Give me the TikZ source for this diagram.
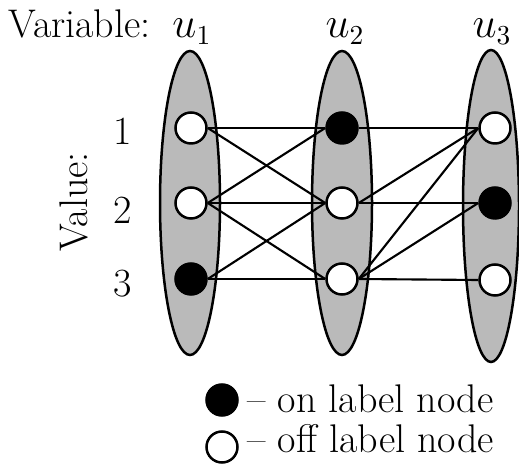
\documentclass[tikz,border=0pt]{standalone}
\begin{document}
\begin{tikzpicture}[x=0.4pt,y=-0.4pt,
  txt/.style={font=\fontsize{16}{19}\selectfont, inner sep=0pt},
  domainbox/.style={draw=black, line width=1pt, fill=black!27},
  offnode/.style={circle, draw=black, line width=1pt, fill=white, minimum size=12.4pt, inner sep=0pt},
  onnode/.style={circle, draw=black, line width=1pt, fill=black, minimum size=12.4pt, inner sep=0pt},
  conn/.style={line width=0.85pt}]
\useasboundingbox (0,0) rectangle (519,464);
% domains
\draw[domainbox] (190,203) ellipse [x radius=30, y radius=152];
\draw[domainbox] (342,203) ellipse [x radius=30, y radius=152];
\draw[domainbox] (491,206) ellipse [x radius=28, y radius=156];
% value nodes
\node[offnode] (a1) at (191,128) {};
\node[offnode] (a2) at (191,203) {};
\node[onnode]  (a3) at (191,279) {};
\node[onnode]  (b1) at (342,128) {};
\node[offnode] (b2) at (342,203) {};
\node[offnode] (b3) at (342,279) {};
\node[offnode] (c1) at (495,128) {};
\node[onnode]  (c2) at (495,203) {};
\node[offnode] (c3) at (495,280) {};
% connectors
\draw[conn] (a1.east) -- (b1.west);
\draw[conn] (a1.east) -- (b2.west);
\draw[conn] (a2.east) -- (b1.west);
\draw[conn] (a2.east) -- (b2.west);
\draw[conn] (a2.east) -- (b3.west);
\draw[conn] (a3.east) -- (b2.west);
\draw[conn] (a3.east) -- (b3.west);
\draw[conn] (b1.east) -- (c1.west);
\draw[conn] (b2.east) -- (c1.west);
\draw[conn] (b2.east) -- (c2.west);
\draw[conn] (b3.east) -- (c1.west);
\draw[conn] (b3.east) -- (c2.west);
\draw[conn] (b3.east) -- (c3.west);
% labels
\node[txt, anchor=base west] (var) at (8,38) {Variable:};
\node[txt, anchor=base] (u1) at (192,38) {$u_1$};
\node[txt, anchor=base] (u2) at (345,38) {$u_2$};
\node[txt, anchor=base] (u3) at (492,38) {$u_3$};
\node[txt, rotate=90] (val) at (74,202) {Value:};
\node[txt] (v1) at (123,131) {1};
\node[txt] (v2) at (123,210) {2};
\node[txt] (v3) at (123,284) {3};
% legend
\node[onnode]  (lon)  at (222,400) {};
\node[offnode] (loff) at (222,447) {};
\node[txt, anchor=base west] (ton) at (247,413) {-- on label node};
\node[txt, anchor=base west] (toff) at (247,453) {-- off label node};
\end{tikzpicture}
\end{document}
